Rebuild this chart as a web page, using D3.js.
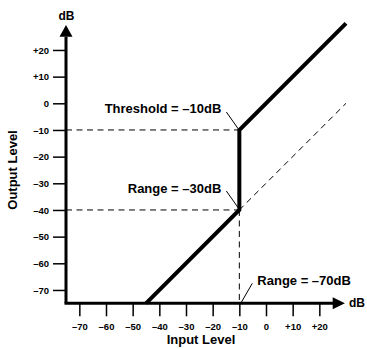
<!DOCTYPE html>
<html>
<head>
  <script src="https://cdnjs.cloudflare.com/ajax/libs/d3/7.8.5/d3.min.js"></script>
  <style>
    body { margin: 0; background: #fff; }
    svg { display: block; font-family: "Liberation Sans", Arial, Helvetica, sans-serif; font-weight: bold; }
    .tick text { font-family: "Liberation Sans", Arial, Helvetica, sans-serif; font-size: 9.5px; font-weight: bold; fill: #000; }
    .tick line { stroke: #000; stroke-width: 1.5; }
  </style>
</head>
<body>
<div id="chart"></div>
<script>
// tick values (dB)
var xTicks = [-70, -60, -50, -40, -30, -20, -10, 0, 10, 20];
var yTicks = [-70, -60, -50, -40, -30, -20, -10, 0, 10, 20];

// gate transfer curve: input dB -> output dB
var curveIn  = [-45, -10, -10, 30];
var curveOut = [-75, -40, -10, 30];

// reference (no gate, range applied) dashed diagonal
var refIn  = [-10, 30];
var refOut = [-40, 0];

var threshold = -10;
var range = -30;

var width = 367, height = 349;

var svg = d3.select('#chart').append('svg')
    .attr('width', width)
    .attr('height', height);

var x = d3.scaleLinear().domain([-75, 30]).range([66, 346]);
var y = d3.scaleLinear().domain([-75, 30]).range([303.3, 23.3]);

function fmt(v) {
    if (v > 0) return '+' + v;
    if (v < 0) return '\u2013' + Math.abs(v);
    return '0';
}

//----------------------------------------
// dashed guides
var dash = '6,4.5';
svg.append('line')
    .attr('x1', x(-75)).attr('x2', x(threshold))
    .attr('y1', y(threshold)).attr('y2', y(threshold))
    .style('stroke', '#000').style('stroke-width', 1).style('stroke-dasharray', dash);
svg.append('line')
    .attr('x1', x(-75)).attr('x2', x(threshold))
    .attr('y1', y(threshold + range)).attr('y2', y(threshold + range))
    .style('stroke', '#000').style('stroke-width', 1).style('stroke-dasharray', dash);
svg.append('line')
    .attr('x1', x(threshold)).attr('x2', x(threshold))
    .attr('y1', y(threshold + range)).attr('y2', y(-75))
    .style('stroke', '#000').style('stroke-width', 1).style('stroke-dasharray', dash);

var line = d3.line()
    .x(function(d) { return x(d[0]); })
    .y(function(d) { return y(d[1]); });

svg.append('path')
    .attr('d', line(d3.zip(refIn, refOut)))
    .style('fill', 'none').style('stroke', '#000').style('stroke-width', 1)
    .style('stroke-dasharray', dash);

//----------------------------------------
// axes
var yAxis = d3.axisLeft(y).tickValues(yTicks).tickFormat(fmt).tickSize(13).tickPadding(4);
var gy = svg.append('g').attr('transform', 'translate(' + x(-75) + ',0)').call(yAxis);
gy.select('.domain').remove();

var xAxis = d3.axisBottom(x).tickValues(xTicks).tickFormat(fmt).tickSize(13).tickPadding(7);
var gx = svg.append('g').attr('transform', 'translate(0,' + y(-75) + ')').call(xAxis);
gx.select('.domain').remove();

// axis lines with arrows
svg.append('path')
    .attr('d', 'M' + x(-75) + ',' + y(-75) + 'V' + y(25))
    .style('stroke', '#000').style('stroke-width', 3).style('fill', 'none');
svg.append('path')
    .attr('d', 'M' + x(-75) + ',' + y(-75) + 'H' + x(25))
    .style('stroke', '#000').style('stroke-width', 3).style('fill', 'none')
    .style('stroke-linecap', 'square');
svg.append('path')
    .attr('d', 'M' + (x(-75) - 6.5) + ',' + y(25) + 'L' + x(-75) + ',' + y(29.4) + 'L' + (x(-75) + 6.5) + ',' + y(25) + 'Z')
    .style('fill', '#000');
svg.append('path')
    .attr('d', 'M' + x(25) + ',' + (y(-75) - 6) + 'L' + x(29.6) + ',' + y(-75) + 'L' + x(25) + ',' + (y(-75) + 6) + 'Z')
    .style('fill', '#000');

svg.append('text').attr('x', x(-75) + 0.5).attr('y', 20)
    .attr('text-anchor', 'middle').style('font-size', '12px').text('dB');
svg.append('text').attr('x', 349).attr('y', y(-75) + 4)
    .style('font-size', '12px').text('dB');

svg.append('text').attr('x', 201).attr('y', 344)
    .attr('text-anchor', 'middle').style('font-size', '13px').text('Input Level');
svg.append('text')
    .attr('transform', 'translate(17,170) rotate(-90)')
    .attr('text-anchor', 'middle').style('font-size', '13px').text('Output Level');

//----------------------------------------
// transfer curve
svg.append('path')
    .attr('d', line(d3.zip(curveIn, curveOut)))
    .style('fill', 'none').style('stroke', '#000').style('stroke-width', 4)
    .style('stroke-linejoin', 'miter');

//----------------------------------------
// annotations
function leader(x1, y1, x2, y2) {
    svg.append('line')
        .attr('x1', x1).attr('y1', y1).attr('x2', x2).attr('y2', y2)
        .style('stroke', '#000').style('stroke-width', 1);
}
leader(x(threshold) - 13, y(threshold) - 18, x(threshold) - 1, y(threshold) - 1);
svg.append('text').attr('x', x(threshold) - 18).attr('y', y(threshold) - 17)
    .attr('text-anchor', 'end').style('font-size', '13px').text('Threshold = \u201310dB');

leader(x(threshold) - 13, y(threshold + range) - 19, x(threshold) - 1, y(threshold + range) - 2);
svg.append('text').attr('x', x(threshold) - 18).attr('y', y(threshold + range) - 17)
    .attr('text-anchor', 'end').style('font-size', '13px').text('Range = \u201330dB');

leader(x(threshold) + 13, y(-75) - 20, x(threshold) + 2, y(-75) - 1);
svg.append('text').attr('x', x(threshold) + 18).attr('y', y(-75) - 18)
    .style('font-size', '13px').text('Range = \u201370dB');
</script>
</body>
</html>
